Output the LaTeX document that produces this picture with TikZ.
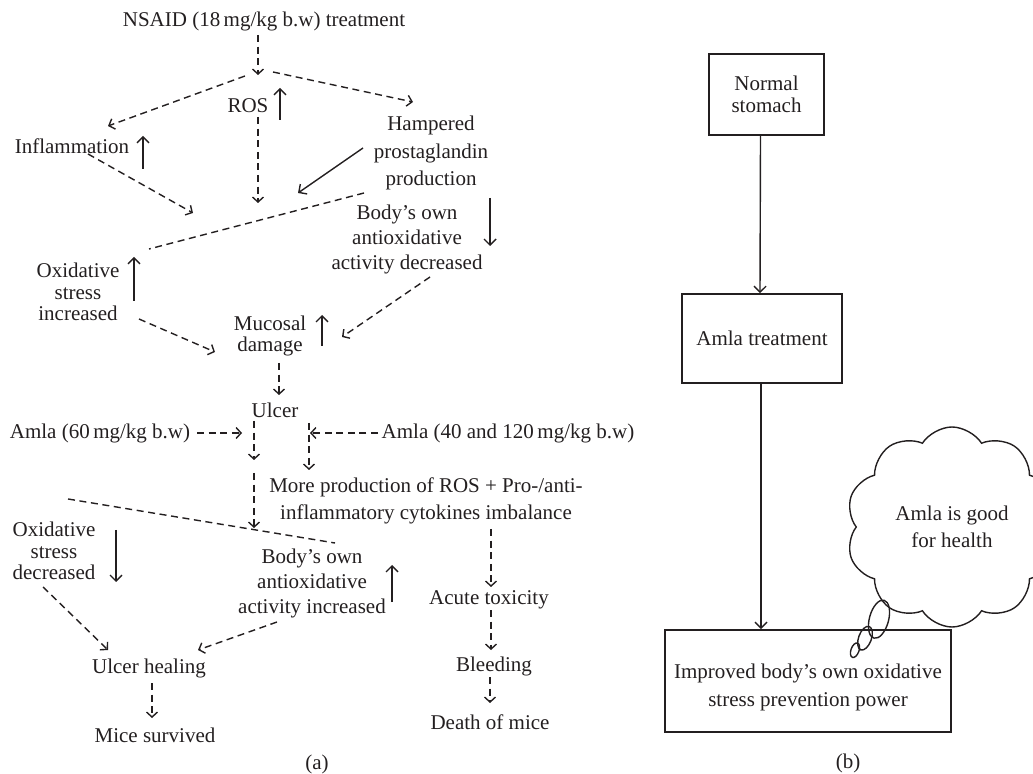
\documentclass[tikz,border=0pt]{standalone}
\usepackage{fontspec}
\setmainfont{Liberation Serif}
\usetikzlibrary{arrows.meta,calc,shapes.symbols}
\definecolor{ink}{RGB}{35,31,32}
\tikzset{
  lbl/.style={align=center, inner sep=0pt, text=ink, font=\fontsize{10.5}{12.5}\selectfont},
  tight/.style={font=\fontsize{10.5}{10.8}\selectfont},
  loose/.style={font=\fontsize{10.5}{13.8}\selectfont},
  dsh/.style={ink, line width=0.7pt, dash pattern=on 3.5pt off 2.3pt, -{Straight Barb[length=2.5pt,width=5.5pt]}},
  dline/.style={ink, line width=0.7pt, dash pattern=on 3.5pt off 2.3pt},
  sarr/.style={ink, line width=0.7pt, -{Straight Barb[length=3pt,width=6pt]}},
  box/.style={draw=ink, line width=0.8pt, align=center, text=ink, inner sep=0pt, font=\fontsize{10.5}{11}\selectfont}
}
\begin{document}
\begin{tikzpicture}[x=0.5pt,y=-0.5pt]
\useasboundingbox (0,0) rectangle (1033,774);

% (a)
\node[lbl] (nsaid) at (264,21) {NSAID (18\,mg/kg b.w) treatment};
\node[lbl] (ros) at (248,106) {ROS};
\node[lbl] (infl) at (72,146) {Inflammation};
\node[lbl,loose] (hamp) at (431,153) {Hampered\\prostaglandin\\production};
\node[lbl] (bodyd) at (407,239) {Body's own\\antioxidative\\activity decreased};
\node[lbl,tight] (oxi) at (78,292) {Oxidative\\stress\\increased};
\node[lbl,tight] (muc) at (270,336) {Mucosal\\damage};
\node[lbl] (ulcer) at (275,410) {Ulcer};
\node[lbl] (amla60) at (100,433) {Amla (60\,mg/kg b.w)};
\node[lbl] (amla40) at (508,433) {Amla (40 and 120\,mg/kg b.w)};
\node[lbl,loose] (more) at (426,501) {More production of ROS + Pro-/anti-\\inflammatory cytokines imbalance};
\node[lbl] (bodyi) at (312,583) {Body's own\\antioxidative\\activity increased};
\node[lbl,tight] (oxd) at (54,551) {Oxidative\\stress\\decreased};
\node[lbl] (acute) at (489,600) {Acute toxicity};
\node[lbl] (bleed) at (494,666) {Bleeding};
\node[lbl] (death) at (490,722) {Death of mice};
\node[lbl] (heal) at (149,668) {Ulcer healing};
\node[lbl] (mice) at (155,735) {Mice survived};
\node[lbl] (capa) at (317,764) {(a)};

\coordinate (j0) at (258,75);
\coordinate (j1) at (258,203);

\draw[dsh] ($(nsaid)+(-6,14)$) -- (j0);
\draw[dsh] ($(j0)+(-13,1)$) -- ($(infl)+(36,-20)$);
\draw[dsh] ($(j0)+(15,-3)$) -- ($(hamp)+(-18,-51)$);
\draw[dsh] ($(ros)+(10,11)$) -- (j1);
\draw[dsh] ($(infl)+(16,8)$) -- ($(j1)+(-65,10)$);
\draw[sarr] ($(hamp)+(-68,-5)$) -- ($(j1)+(40,-10)$);
\draw[dline] ($(hamp)+(-67,40)$) -- ($(oxi)+(71,-43)$);
\draw[dsh] ($(bodyd)+(23,38)$) -- ($(muc)+(72,1)$);
\draw[dsh] ($(oxi)+(61,27)$) -- ($(muc)+(-55,16)$);
\draw[dsh] ($(muc)+(9,27)$) -- ($(ulcer)+(4,-15)$);

% up / down marks
\draw[sarr] ($(ros)+(32,14)$) -- ++(0,-32);
\draw[sarr] ($(infl)+(71,23)$) -- ++(0,-33);
\draw[sarr] ($(bodyd)+(83,-41)$) -- ++(0,48);
\draw[sarr] ($(oxi)+(56,9)$) -- ++(0,-44);
\draw[sarr] ($(muc)+(52,10)$) -- ++(0,-31);
\draw[sarr] ($(oxd)+(62,-21)$) -- ++(0,52);
\draw[sarr] ($(bodyi)+(80,19)$) -- ++(0,-37);

\draw[dsh] ($(amla60)+(97,0)$) -- ($(amla60)+(142,0)$);
\draw[dsh] ($(amla40)+(-130,0)$) -- ($(amla40)+(-198,0)$);
\draw[dsh] ($(ulcer)+(-21,11)$) -- ++(0,39);
\coordinate (j2) at (254,528);
\draw[dsh] ($(ulcer)+(-21,63)$) -- (j2);
\draw[dsh] ($(ulcer)+(34,13)$) -- ++(0,47);
\draw[dline] ($(oxd)+(14,-52)$) -- ($(bodyi)+(23,-40)$);
\draw[dsh] ($(oxd)+(-11,36)$) -- ($(heal)+(-41,-18)$);
\draw[dsh] ($(bodyi)+(-35,39)$) -- ($(heal)+(49,-18)$);
\draw[dsh] ($(heal)+(3,15)$) -- ($(mice)+(-3,-17)$);
\draw[dsh] ($(more)+(65,28)$) -- ($(acute)+(2,-13)$);
\draw[dsh] ($(acute)+(2,10)$) -- ($(bleed)+(-3,-16)$);
\draw[dsh] ($(bleed)+(-4,11)$) -- ($(death)+(0,-19)$);

% (b)
\node[box, minimum width=57.5pt, minimum height=40.5pt] (normal) at (766.5,94.5) {Normal\\stomach};
\node[box, minimum width=80pt, minimum height=44.5pt] (amlat) at (762,338.5) {Amla treatment};
\node[box, minimum width=143pt, minimum height=51pt, font=\fontsize{10.5}{13.8}\selectfont] (impr) at (808,681) {\rule{0pt}{13.5pt}Improved body's own oxidative\\stress prevention power};
\node[cloud, cloud ignores aspect, draw=ink, line width=0.7pt, cloud puffs=10, cloud puff arc=115, minimum width=106pt, minimum height=100pt,
      align=center, text=ink, font=\fontsize{10.5}{13.8}\selectfont] (cloud) at (952,527) {Amla is good\\for health};
\node[lbl] (capb) at (848,763) {(b)};

\draw[sarr] ($(normal.south)+(-6,0)$) -- ($(amlat.north)+(-2,0)$);
\draw[sarr] ($(amlat.south)+(-1,0)$) -- ($(amlat.south |- impr.north)+(-1,0)$);

\draw[ink, line width=0.7pt] ($(impr.north)+(71,-10)$) ellipse [x radius=4.8pt, y radius=9.8pt, rotate=-15];
\draw[ink, line width=0.7pt] ($(impr.north)+(57,9)$) ellipse [x radius=3.2pt, y radius=6.2pt, rotate=-20];
\draw[ink, line width=0.7pt] ($(impr.north)+(47,21)$) ellipse [x radius=2pt, y radius=3.8pt, rotate=-20];
\end{tikzpicture}
\end{document}
